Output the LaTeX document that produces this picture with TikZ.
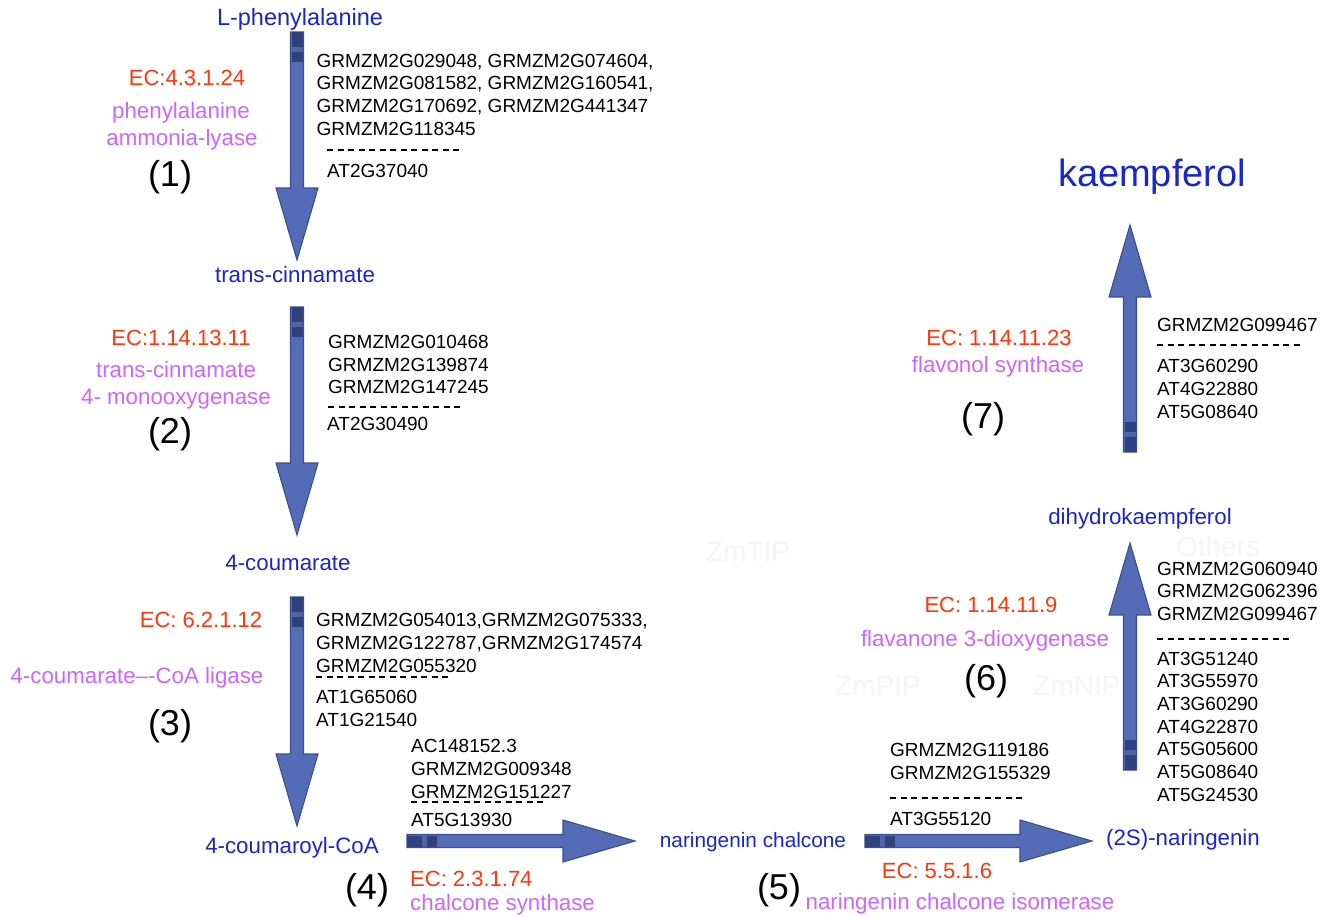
\documentclass[tikz,border=0pt]{standalone}
\usepackage{fontspec}
\setmainfont{Liberation Sans}
\usetikzlibrary{calc}
\definecolor{lblblue}{RGB}{25,38,200}
\definecolor{ecred}{RGB}{255,55,10}
\definecolor{enzpurple}{RGB}{205,102,250}
\definecolor{arrowfill}{RGB}{84,108,182}
\definecolor{arrowedge}{RGB}{58,78,145}
\definecolor{arrowbandc}{RGB}{48,65,125}
\definecolor{arrowstripec}{RGB}{78,100,170}
\definecolor{watermark}{RGB}{245,245,245}
\tikzset{
 compound/.style={text=lblblue, font=\fontsize{22.3}{24}\selectfont, inner sep=0pt, anchor=base},
 ecnum/.style={text=ecred, font=\fontsize{22}{24}\selectfont, inner sep=0pt, anchor=base},
 enzyme/.style={text=enzpurple, font=\fontsize{22.3}{24}\selectfont, inner sep=0pt, anchor=base},
 stepnum/.style={font=\fontsize{36}{40}\selectfont, inner sep=0pt, anchor=base},
 gene/.style={font=\fontsize{19}{22}\selectfont, inner sep=0pt, anchor=base west},
 sepline/.style={line width=1.4pt, dash pattern=on 6.3pt off 4.2pt},
 wmark/.style={text=watermark, font=\fontsize{28}{30}\selectfont, inner sep=0pt},
 arrowshape/.style={fill=arrowfill, draw=arrowedge, line width=1.1pt, line join=miter},
 arrowband/.style={draw=arrowbandc, line width=11pt},
 arrowstripe/.style={draw=arrowstripec, line width=11pt},
}
\newcommand\flowarrow[2]{%
 \filldraw[arrowshape] ($(#1)!6.5pt!90:(#2)$) -- ($(#2)!72.29pt!-5.16:(#1)$) -- ($(#2)!75pt!-16.26:(#1)$) -- (#2) -- ($(#2)!75pt!16.26:(#1)$) -- ($(#2)!72.29pt!5.16:(#1)$) -- ($(#1)!6.5pt!-90:(#2)$) -- cycle;
 \draw[arrowband] (#1) -- ($(#1)!30pt!(#2)$);
 \draw[arrowstripe] ($(#1)!15pt!(#2)$) -- ($(#1)!20pt!(#2)$);
}
\newcommand\genelines[4]{%
 \foreach \g [count=\i from 0] in {#4} {\node[gene] (#1-\i) at (#2, #3+\i*22.7) {\g};}%
}
\begin{document}
\begin{tikzpicture}[x=1pt,y=-1pt]
\fill[white] (0,0) rectangle (1330,917);
\useasboundingbox (0,0) rectangle (1330,917);

% faint watermarks
\node[wmark] (wm1) at (748,552) {ZmTIP};
\node[wmark] (wm2) at (1218,546) {Others};
\node[wmark] (wm3) at (878,686) {ZmPIP};
\node[wmark] (wm4) at (1077,686) {ZmNIP};

% compounds
\node[compound, font=\fontsize{23.5}{24}\selectfont] (lphe) at (300,26) {L-phenylalanine};
\node[compound] (tcin) at (295,283) {trans-cinnamate};
\node[compound] (coum) at (288,570) {4-coumarate};
\node[compound] (coumcoa) at (292,853) {4-coumaroyl-CoA};
\node[compound, font=\fontsize{20.8}{24}\selectfont] (narch) at (753,847) {naringenin chalcone};
\node[compound] (nar) at (1183,845) {(2S)-naringenin};
\node[compound] (dhk) at (1140,524) {dihydrokaempferol};
\node[compound, font=\fontsize{38}{40}\selectfont] (kae) at (1152,187) {kaempferol};

% arrows
\coordinate (a1t) at (297,32);   \coordinate (a1h) at (297,260);
\coordinate (a2t) at (297,307);  \coordinate (a2h) at (297,535);
\coordinate (a3t) at (297,597);  \coordinate (a3h) at (297,826);
\coordinate (a4t) at (407,841);  \coordinate (a4h) at (635,841);
\coordinate (a5t) at (865,841);  \coordinate (a5h) at (1092,841);
\coordinate (a6t) at (1130,770); \coordinate (a6h) at (1130,543);
\coordinate (a7t) at (1130,452); \coordinate (a7h) at (1130,225);
\flowarrow{a1t}{a1h}
\flowarrow{a2t}{a2h}
\flowarrow{a3t}{a3h}
\flowarrow{a4t}{a4h}
\flowarrow{a5t}{a5h}
\flowarrow{a6t}{a6h}
\flowarrow{a7t}{a7h}

% EC numbers
\node[ecnum] (ec1) at (187,86) {EC:4.3.1.24};
\node[ecnum] (ec2) at (181,345) {EC:1.14.13.11};
\node[ecnum] (ec3) at (201,627) {EC: 6.2.1.12};
\node[ecnum, anchor=base west] (ec4) at (410,886) {EC: 2.3.1.74};
\node[ecnum] (ec5) at (937,878) {EC: 5.5.1.6};
\node[ecnum] (ec6) at (991,612) {EC: 1.14.11.9};
\node[ecnum] (ec7) at (999,345) {EC: 1.14.11.23};

% enzymes
\node[enzyme] (enz1a) at (181,119) {phenylalanine};
\node[enzyme] (enz1b) at (182,146) {ammonia-lyase};
\node[enzyme] (enz2a) at (176,377) {trans-cinnamate};
\node[enzyme] (enz2b) at (176,404) {4- monooxygenase};
\node[enzyme] (enz3) at (137,683) {4-coumarate–-CoA ligase};
\node[enzyme, anchor=base west] (enz4) at (410,910) {chalcone synthase};
\node[enzyme] (enz5) at (960,909) {naringenin chalcone isomerase};
\node[enzyme] (enz6) at (985,646) {flavanone 3-dioxygenase};
\node[enzyme] (enz7) at (998,372) {flavonol synthase};

% step numbers
\node[stepnum] (s1) at (170,187) {(1)};
\node[stepnum] (s2) at (170,443) {(2)};
\node[stepnum] (s3) at (170,735) {(3)};
\node[stepnum] (s4) at (367,899) {(4)};
\node[stepnum] (s5) at (779,899) {(5)};
\node[stepnum] (s6) at (986,690) {(6)};
\node[stepnum] (s7) at (983,428) {(7)};

% gene lists
\genelines{g1}{316.5}{67.3}{{GRMZM2G029048, GRMZM2G074604,},{GRMZM2G081582, GRMZM2G160541,},{GRMZM2G170692, GRMZM2G441347},{GRMZM2G118345}}
\coordinate (d1a) at (327,150); \coordinate (d1b) at (461,150);
\draw[sepline] (d1a) -- (d1b);
\genelines{t1}{327}{178}{AT2G37040}

\genelines{g2}{328}{348.3}{GRMZM2G010468,GRMZM2G139874,GRMZM2G147245}
\coordinate (d2a) at (328,407); \coordinate (d2b) at (461,407);
\draw[sepline] (d2a) -- (d2b);
\genelines{t2}{327}{430}{AT2G30490}

\genelines{g3}{316}{626.7}{{GRMZM2G054013,GRMZM2G075333,},{GRMZM2G122787,GRMZM2G174574},{GRMZM2G055320}}
\coordinate (d3a) at (316,677); \coordinate (d3b) at (450,677);
\draw[sepline] (d3a) -- (d3b);
\genelines{t3}{316}{703.3}{AT1G65060,AT1G21540}

\genelines{g4}{411}{752.7}{AC148152.3,GRMZM2G009348,GRMZM2G151227}
\coordinate (d4a) at (411,802); \coordinate (d4b) at (545,802);
\draw[sepline] (d4a) -- (d4b);
\genelines{t4}{411}{826.7}{AT5G13930}

\genelines{g5}{890}{756.7}{GRMZM2G119186,GRMZM2G155329}
\coordinate (d5a) at (890,798); \coordinate (d5b) at (1025,798);
\draw[sepline] (d5a) -- (d5b);
\genelines{t5}{890}{825}{AT3G55120}

\genelines{g6}{1157}{575}{GRMZM2G060940,GRMZM2G062396,GRMZM2G099467}
\coordinate (d6a) at (1157,639); \coordinate (d6b) at (1293,639);
\draw[sepline] (d6a) -- (d6b);
\genelines{t6}{1157}{665}{AT3G51240,AT3G55970,AT3G60290,AT4G22870,AT5G05600,AT5G08640,AT5G24530}

\genelines{g7}{1157}{331.7}{GRMZM2G099467}
\coordinate (d7a) at (1157,345); \coordinate (d7b) at (1303,345);
\draw[sepline] (d7a) -- (d7b);
\genelines{t7}{1157}{372.7}{AT3G60290,AT4G22880,AT5G08640}
\end{tikzpicture}
\end{document}
